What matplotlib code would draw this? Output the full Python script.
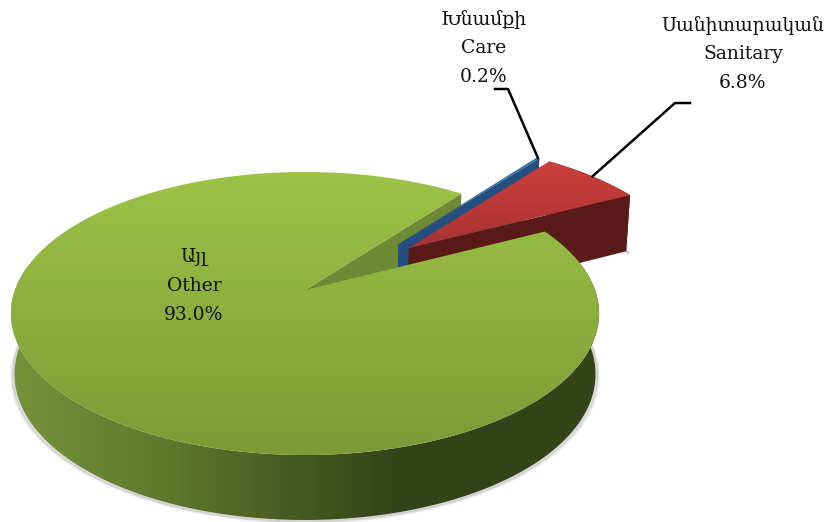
import numpy as np
import matplotlib
matplotlib.use("Agg")
import matplotlib.pyplot as plt
from matplotlib.colors import LinearSegmentedColormap
from matplotlib.patches import Polygon

# going clockwise from START_ANGLE
names_am = ["Խնամքի", "Սանիտարական", "Այլ"]
names_en = ["Care", "Sanitary", "Other"]
shares = [0.2, 6.8, 93.0]

START_ANGLE = 52.4
explode = [0.49, 0.495, 0.0]
explode_dir = [46.0, 40.5, 0.0]

# camera, in pixels of the 828x522 picture
CX, CY = 305, 290
A, B, K = 290, 137.6, 0.166

top_colors = [["#2f72b4", "#244f80"], ["#cc403c", "#a83232"], ["#9cc346", "#7c9a36"]]
wall_colors = ["#244f80", "#5a1a18"]
green_wall_stops = [(15, "#75933a"), (160, "#5f7a2e"), (300, "#46591f"),
                    (400, "#34421a"), (598, "#364418")]


def project(x, y, drop=0.0):
    w = 1 + K * y
    depth = (60 - 5 * y) * drop
    shrink = 1 - 0.012 * drop
    return CX + A * x / w * shrink, CY - B * y / w + depth


def arc(t1, t2, off, drop=0.0, n=200):
    t = np.radians(np.linspace(t1, t2, n))
    return np.column_stack(project(off[0] + np.cos(t), off[1] + np.sin(t), drop))


def fill_gradient(ax, pts, stops, horizontal, zorder):
    patch = Polygon(pts, closed=True, fc="none", ec="none", zorder=zorder)
    ax.add_patch(patch)
    x0, y0 = pts.min(axis=0)
    x1, y1 = pts.max(axis=0)
    lo, hi = (x0, x1) if horizontal else (y0, y1)
    pos = [(np.clip(p, lo, hi) - lo) / (hi - lo) for p, _ in stops]
    pos[0], pos[-1] = 0.0, 1.0
    cmap = LinearSegmentedColormap.from_list("g", list(zip(pos, [c for _, c in stops])))
    grad = np.linspace(0, 1, 256)
    grad = grad[None, :] if horizontal else grad[:, None]
    im = ax.imshow(grad, cmap=cmap, extent=(x0, x1, y1, y0), origin="upper" if not horizontal else "lower",
                   aspect="auto", zorder=zorder, interpolation="bilinear")
    im.set_clip_path(patch)


def vertical_stops(pts, colors):
    return [(pts[:, 1].min(), colors[0]), (pts[:, 1].max(), colors[1])]


fig = plt.figure(figsize=(8.28, 5.22), dpi=100)
ax = fig.add_axes([0, 0, 1, 1])
ax.axis("off")

angle = START_ANGLE
spans = []
for s in shares:
    spans.append((angle - s * 3.6, angle))
    angle -= s * 3.6

offsets = []
for e, d in zip(explode, explode_dir):
    offsets.append((e * np.cos(np.radians(d)), e * np.sin(np.radians(d))))

care, sanitary, other = 0, 1, 2

# only the near side of the big slice has a visible wall
t1, t2 = spans[other]
front = max(t1, -190)

# soft shadow under the walls
for i, start in [(other, front), (sanitary, spans[sanitary][0])]:
    low = arc(start, spans[i][1], offsets[i], 1.0)
    for grow, alpha in [(3.0, 0.06), (2.0, 0.10), (1.0, 0.14)]:
        ax.plot(low[:, 0] + (low[:, 0] - CX) / 294 * grow, low[:, 1] + grow * 0.8,
                color="#555555", alpha=alpha, lw=2.2, zorder=1, solid_capstyle="round")

# green cut face seen through the gap
rim_top = arc(START_ANGLE, START_ANGLE, offsets[other])[0]
rim_low = arc(START_ANGLE, START_ANGLE, offsets[other], 1.0)[0]
apex_top = project(0, 0)
apex_low = project(0, 0, 1.0)
ax.add_patch(Polygon([apex_top, rim_top, rim_low, apex_low], closed=True,
                     fc="#6f8a35", ec="none", zorder=2))

# exploded slices: cut face and outer wall, then the top
for i in [care, sanitary]:
    s1, s2 = spans[i]
    off = offsets[i]
    top = arc(s1, s2, off)
    low = arc(s1, s2, off, 1.0)
    a_top = np.array(project(off[0], off[1]))
    a_low = np.array(project(off[0], off[1], 1.0))
    wall = np.vstack([top, low[::-1]])
    face = np.vstack([a_top, top[0], low[0], a_low])
    z = 3 + 2 * i
    ax.add_patch(Polygon(wall, closed=True, fc=wall_colors[i], ec="none", zorder=z))
    ax.add_patch(Polygon(face, closed=True, fc=wall_colors[i], ec="none", zorder=z))
    surface = np.vstack([a_top, top])
    fill_gradient(ax, surface, vertical_stops(surface, top_colors[i]), False, z + 1)

# big slice: wall with the shading going left to right, then the top
top = arc(front, t2, offsets[other], n=500)
low = arc(front, t2, offsets[other], 1.0, n=500)
fill_gradient(ax, np.vstack([top, low[::-1]]), green_wall_stops, True, 10)
rim = arc(t1, t2, offsets[other], n=500)
surface = np.vstack([np.array(apex_top), rim])
fill_gradient(ax, surface, vertical_stops(surface, top_colors[other]), False, 11)

# leader lines run from each rim to its label
mid = [np.mean(spans[i]) for i in range(3)]
care_tip = arc(mid[care], mid[care], offsets[care])[0]
san_tip = arc(mid[sanitary], mid[sanitary], offsets[sanitary])[0]
ax.plot([495, 508, care_tip[0]], [89, 89, care_tip[1]], color="black", lw=1.8, zorder=12)
ax.plot([690, 675, san_tip[0]], [103, 103, san_tip[1]], color="black", lw=1.8, zorder=12)

label_pos = [(484, 48), (743, 54), (194, 286)]
for i, (lx, ly) in enumerate(label_pos):
    ax.text(lx, ly, f"{names_am[i]}\n{names_en[i]}\n{shares[i]:.1f}%", ha="center", va="center",
            family=["DejaVu Serif", "DejaVu Sans"], fontsize=13.5, linespacing=1.75,
            color="#111111", zorder=13)

ax.set_xlim(0, 828)
ax.set_ylim(522, 0)
fig.savefig("out.png", dpi=100)
